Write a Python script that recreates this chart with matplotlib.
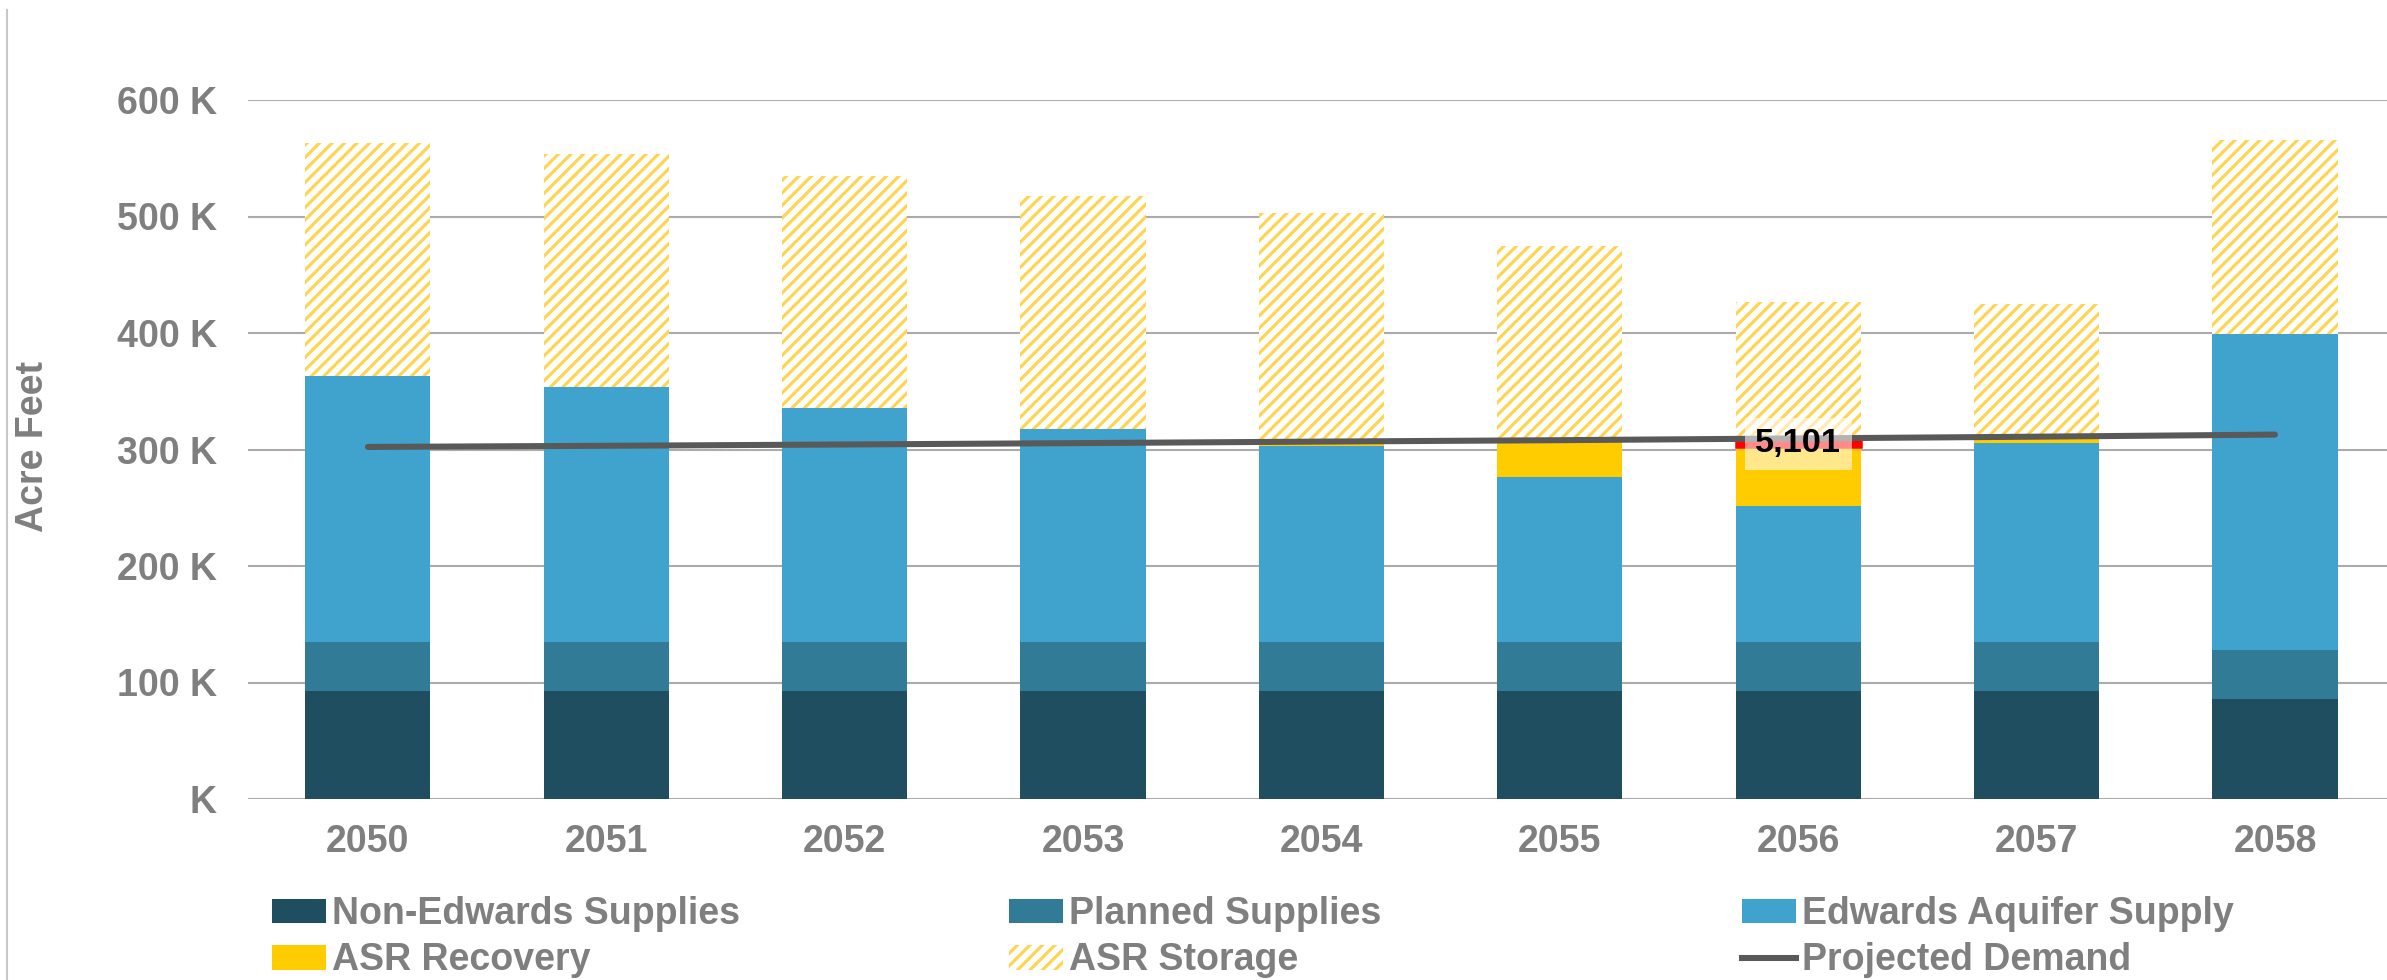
import numpy as np
import matplotlib
matplotlib.use("Agg")
import matplotlib.pyplot as plt
from matplotlib.lines import Line2D
from matplotlib.patches import Patch

plt.rcParams['font.family'] = ['Liberation Sans', 'DejaVu Sans']
plt.rcParams['hatch.linewidth'] = 1.5

# data, acre feet
years = ['2050', '2051', '2052', '2053', '2054', '2055', '2056', '2057', '2058']
non_edwards = [93000, 93000, 93000, 93000, 93000, 93000, 93000, 93000, 86000]
planned = [41500, 41500, 41500, 41500, 41500, 41500, 41500, 41500, 42000]
edwards = [228200, 219500, 201100, 183100, 168900, 142200, 117100, 170900, 271000]
asr_recovery = [0, 0, 0, 0, 1000, 30300, 50200, 3400, 0]
shortfall = [0, 0, 0, 0, 0, 0, 5101, 0, 0]
asr_storage = [200300, 199600, 199400, 200400, 198600, 168000, 120100, 116200, 167000]
demand = [302200, 303200, 304300, 305500, 306800, 308000, 309500, 311000, 312800]

yticks = [0, 100000, 200000, 300000, 400000, 500000, 600000]

c_non = '#1F4E60'
c_plan = '#317B97'
c_edw = '#3FA3CD'
c_rec = '#FFCC00'
c_hatch = '#FFD44F'
c_dem = '#595959'
grey = '#7F7F7F'

DPI = 150
fig = plt.figure(figsize=(2387 / DPI, 980 / DPI), dpi=DPI)
ax = fig.add_axes([248 / 2387, 1 - 799 / 980, (2387 - 248) / 2387, (799 - 100) / 980])

x = np.arange(len(years))
w = 0.525
b1 = np.array(non_edwards)
b2 = b1 + np.array(planned)
b3 = b2 + np.array(edwards)
b4 = b3 + np.array(asr_recovery)
b5 = b4 + np.array(shortfall)

ax.bar(x, non_edwards, w, color=c_non, zorder=2)
ax.bar(x, planned, w, bottom=b1, color=c_plan, zorder=2)
ax.bar(x, edwards, w, bottom=b2, color=c_edw, zorder=2)
ax.bar(x, asr_recovery, w, bottom=b3, color=c_rec, zorder=2)
ax.bar(x, asr_storage, w, bottom=b5, facecolor='white', edgecolor=c_hatch, hatch='////',
       linewidth=0, zorder=2)

# the red segment only exists where there is a shortfall
sf = np.array(shortfall)
m = sf > 0
ax.bar(x[m], sf[m], w, bottom=b4[m], color='#FF0000', edgecolor='#FF0000', linewidth=1.2, zorder=2)

ax.plot(x, demand, color=c_dem, lw=2.9, solid_capstyle='round', zorder=3)

for i in x[m]:
    ax.text(x[i], b4[i] + 3000, f"{shortfall[i]:,}", ha='center', va='center', fontsize=16.5,
            fontweight='bold', color='black', zorder=5,
            bbox=dict(boxstyle='square,pad=0.3', facecolor='white', alpha=0.55, edgecolor='none'))

ax.set_xlim(-0.503, 8.47)
ax.set_ylim(0, 600000)
ax.set_yticks(yticks)
ax.set_yticklabels(['K' if v == 0 else f"{v // 1000} K" for v in yticks])
ax.set_xticks(x)
ax.set_xticklabels(years)
ax.tick_params(axis='y', length=0, pad=15, labelsize=18, labelcolor=grey)
ax.tick_params(axis='x', length=0, pad=12, labelsize=18, labelcolor=grey)
for lab in ax.get_xticklabels() + ax.get_yticklabels():
    lab.set_fontweight('bold')
ax.grid(axis='y', color='#ABABAB', lw=1.0)
ax.set_axisbelow(True)
for s in ax.spines.values():
    s.set_visible(False)

fig.text(33 / 2387, 1 - 447 / 980, 'Acre Feet', rotation=90, ha='center', va='center',
         fontsize=18, fontweight='bold', color=grey)

# thin border on the left
fig.add_artist(Line2D([7 / 2387, 7 / 2387], [0, 1 - 10 / 980], transform=fig.transFigure,
                      color='#C8C8C8', lw=1))

h_non = Patch(facecolor=c_non, label='Non-Edwards Supplies')
h_plan = Patch(facecolor=c_plan, label='Planned Supplies')
h_edw = Patch(facecolor=c_edw, label='Edwards Aquifer Supply')
h_rec = Patch(facecolor=c_rec, label='ASR Recovery')
h_sto = Patch(facecolor='white', edgecolor=c_hatch, hatch='////', linewidth=0, label='ASR Storage')
h_dem = Line2D([], [], color=c_dem, lw=2.9, label='Projected Demand')

cols = [(272, [h_non, h_rec]), (1009, [h_plan, h_sto]), (1742, [h_edw, h_dem])]
for xpix, hs in cols:
    leg = fig.legend(handles=hs, loc='upper left', bbox_to_anchor=(xpix / 2387, 1 - 896 / 980),
                     frameon=False, borderpad=0, borderaxespad=0, handlelength=1.45,
                     handleheight=0.63, handletextpad=0.15, labelspacing=0.28,
                     prop={'size': 18, 'weight': 'bold'})
    for t in leg.get_texts():
        t.set_color(grey)

fig.savefig('out.png', dpi=DPI)
